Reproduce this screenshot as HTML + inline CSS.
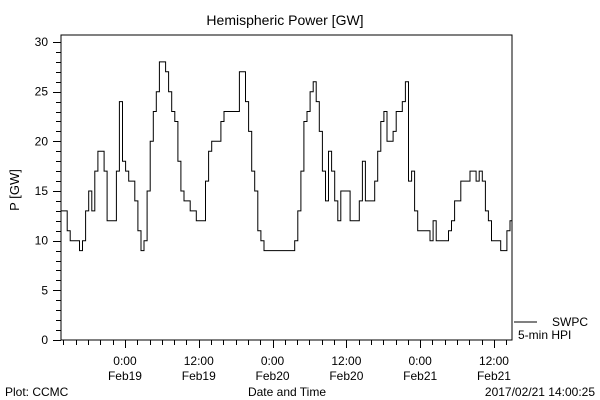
<!DOCTYPE html>
<html><head><meta charset="utf-8"><style>
body{margin:0;background:#fff}
svg{display:block;font-family:"Liberation Sans",sans-serif}
</style></head><body>
<svg id="chart" width="600" height="400">
<rect x="0" y="0" width="600" height="400" fill="#fff"/>
<text x="285" y="25" text-anchor="middle" font-size="14">Hemispheric Power [GW]</text>
<text transform="translate(19,190) rotate(-90)" text-anchor="middle" font-size="13">P [GW]</text>
<text x="5" y="396" font-size="12">Plot: CCMC</text>
<text x="287" y="396" text-anchor="middle" font-size="12">Date and Time</text>
<text x="595" y="396" text-anchor="end" font-size="12">2017/02/21 14:00:25</text>
<rect x="61" y="35" width="451" height="305" fill="none" stroke="#000" stroke-width="1"/>
<g id="axes"></g>
<polyline id="series" fill="none" stroke="#000" stroke-width="1"/>
<line x1="514" y1="322" x2="537" y2="322" stroke="#000"/>
<text x="552" y="326" font-size="12">SWPC</text>
<text x="518" y="339" font-size="12">5-min HPI</text>
</svg>
<script>
// hours relative to Feb19 00:00; samples every 0.5 h
const startHour = -10.4;
const stepHours = 0.5;
const powerValues = [13,13,11,10,10,10,9,10,13,15,13,17,19,19,17,12,12,12,17,24,18,17,16,16,14,11,9,10,15,20,23,25,28,28,27,25,23,22,18,15,14,14,13,13,12,12,12,16,19,20,20,20,22,23,23,23,23,23,27,27,24,21,17,15,11,10,9,9,9,9,9,9,9,9,9,9,10,13,17,22,23,25,26,24,21,17,14,19,17,14,12,15,15,15,12,12,12,14,18,14,14,14,16,19,22,23,20,20,21,23,23,24,26,16,17,13,11,11,11,11,10,12,10,10,10,10,11,12,14,14,16,16,16,17,17,16,17,16,13,12,10,10,10,9,9,11,12,12];
const yTickValues = [0,5,10,15,20,25,30];
const xTickHours = [0,12,24,36,48,60];
const xTickTimes = ["0:00","12:00","0:00","12:00","0:00","12:00"];
const xTickDates = ["Feb19","Feb19","Feb20","Feb20","Feb21","Feb21"];

const X0=61, X1=512, Y0=340, Y1=42;
const hMin=-10.4, hMax=62.93;
function xScale(h){return X0+(h-hMin)/(hMax-hMin)*(X1-X0);}
function yScale(v){return Y0-(v/30)*(Y0-Y1);}
const NS="http://www.w3.org/2000/svg";
const axes=document.getElementById('axes');
function ln(x1,y1,x2,y2,name){const l=document.createElementNS(NS,'line');
l.setAttribute('x1',x1);l.setAttribute('y1',y1);l.setAttribute('x2',x2);l.setAttribute('y2',y2);
l.setAttribute('stroke','#000');


axes.appendChild(l);}
function tx(x,y,s,anchor,name){const t=document.createElementNS(NS,'text');
t.setAttribute('x',x);t.setAttribute('y',y);t.setAttribute('font-size','12');t.setAttribute('text-anchor',anchor);t.textContent=s;


axes.appendChild(t);}
for(let v=0;v<=30;v++){const y=Math.round(yScale(v))+0.5;ln(v%5===0?53:56,y,61,y,'y-tick');}
yTickValues.forEach(v=>tx(48,yScale(v)+4,String(v),'end','y-tick-label'));
for(let h=-10;h<=62;h+=2){const x=Math.round(xScale(h))+0.5;ln(x,340,x,h%12===0?348:345,'x-tick');}
xTickHours.forEach((h,i)=>{const x=xScale(h);tx(x,365,xTickTimes[i],'middle','x-tick-time');tx(x,380,xTickDates[i],'middle','x-tick-date');});
const pts=[];
powerValues.forEach((v,i)=>{
  const xa=xScale(Math.min(hMax,startHour+i*stepHours));
  const xb=xScale(Math.min(hMax,startHour+(i+1)*stepHours));
  const y=yScale(v);
  pts.push(xa.toFixed(1)+','+y.toFixed(1));
  pts.push(Math.min(xb,X1).toFixed(1)+','+y.toFixed(1));
});
document.getElementById('series').setAttribute('points',pts.join(' '));
</script>
</body></html>
